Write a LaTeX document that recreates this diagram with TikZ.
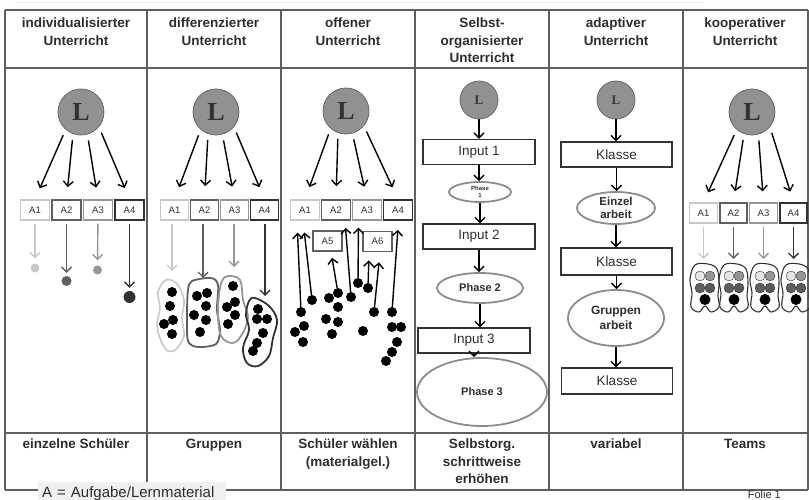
\documentclass[tikz,border=0pt]{standalone}
\usepackage{fontspec}
\setmainfont{Liberation Sans}
\newfontfamily\lehrerfont{Liberation Serif}
\usetikzlibrary{arrows.meta,calc,positioning,shapes.geometric}
\definecolor{tabrule}{RGB}{95,95,95}
\definecolor{textgrau}{RGB}{45,45,45}
\definecolor{lehrerfill}{RGB}{145,145,145}
\definecolor{lehrerrand}{RGB}{105,105,105}
\definecolor{hell}{RGB}{200,200,200}
\definecolor{mittel}{RGB}{150,150,150}
\definecolor{dunkel}{RGB}{95,95,95}
\definecolor{tief}{RGB}{50,50,50}
\definecolor{ovalrand}{RGB}{140,140,140}
\definecolor{fussbox}{RGB}{240,240,240}
\newcommand{\aufgabenreihe}[5]{%
  \node[abox,minimum width=#5,draw=hell] (#1a1) at (#2,#3) {A1};%
  \node[abox,minimum width=#5,draw=dunkel,line width=1.8] (#1a2) at ({#2+#4},#3) {A2};%
  \node[abox,minimum width=#5,draw=mittel] (#1a3) at ({#2+2*#4},#3) {A3};%
  \node[abox,minimum width=#5,draw=tief,line width=1.8] (#1a4) at ({#2+3*#4},#3) {A4};%
}
\newcommand{\lehrerfaecher}[3]{%
  \foreach \w [count=\k] in {229,250,286,320}
    \draw[pfeil,shorten <=6,shorten >=#3] (#1.\w) -- (#2a\k.north);%
}
\newcommand{\teamblob}[2]{%
  \coordinate (#2) at (#1,266);%
  \draw[tief,line width=1.1] plot[smooth cycle,tension=0.6] coordinates {({#1-10},265) ({#1+3},264) ({#1+12},269) ({#1+14},283) ({#1+13},296) ({#1+14},307) ({#1+6},312) ({#1},306) ({#1-6},312) ({#1-14},307) ({#1-13},293) ({#1-15},279)};%
  \filldraw[draw=tief,fill=black!10] ({#1-5},276) circle (5);%
  \filldraw[draw=tief,fill=mittel] ({#1+5},276) circle (5);%
  \filldraw[draw=tief,fill=dunkel] ({#1-5},288) circle (5);%
  \filldraw[draw=tief,fill=black!65] ({#1+5},288) circle (5);%
  \fill[black] (#1,299.5) circle (5.5);%
}

\begin{document}
\begin{tikzpicture}[x=1pt,y=-1pt,
  kopf/.style={anchor=north,align=center,inner sep=0,text=textgrau,
    font=\bfseries\fontsize{13.5}{17.5}\selectfont},
  lehrer/.style={circle,fill=lehrerfill,draw=lehrerrand,line width=0.8,minimum size=46,inner sep=0,
    font=\lehrerfont\bfseries\fontsize{26}{26}\selectfont,text=black!80},
  lehrerklein/.style={lehrer,minimum size=38,font=\lehrerfont\bfseries\fontsize{13}{13}\selectfont},
  abox/.style={rectangle,line width=1.3,minimum height=20,inner sep=0,fill=white,
    font=\fontsize{9.5}{10}\selectfont,text=textgrau},
  kasten/.style={rectangle,draw=tief,line width=1.1,minimum width=112,minimum height=25,inner sep=0,
    font=\fontsize{13.5}{14}\selectfont,text=textgrau},
  oval/.style={ellipse,draw=ovalrand,line width=1.8,inner sep=0,align=center,text=textgrau,
    font=\bfseries\fontsize{11}{13}\selectfont},
  pfeil/.style={-{Straight Barb[length=5pt,width=10pt]},line width=1.4},
  punkt/.style={circle,fill=black,inner sep=0,minimum size=10}]
  \useasboundingbox (0,0) rectangle (809,500);
  % table
  \draw[black!8,line width=1] (15,3) -- (703,3);
  \draw[tabrule,line width=1.2] (5,10) -- (808,10) (5,68) -- (808,68) (5,433) -- (808,433) (5,490) -- (808,490);
  \foreach \x in {5,147,281,415,549,683,808} \draw[tabrule,line width=1.2] (\x,10) -- (\x,490);
  \node[kopf] (h1) at (76,18) {individualisierter\\Unterricht};
  \node[kopf] (h2) at (214,18) {differenzierter\\Unterricht};
  \node[kopf] (h3) at (348,18) {offener\\Unterricht};
  \node[kopf] (h4) at (482,18) {Selbst-\\organisierter\\Unterricht};
  \node[kopf] (h5) at (616,18) {adaptiver\\Unterricht};
  \node[kopf] (h6) at (745,18) {kooperativer\\Unterricht};
  \node[kopf] (f1) at (76,439) {einzelne Schüler};
  \node[kopf] (f2) at (214,439) {Gruppen};
  \node[kopf] (f3) at (348,439) {Schüler wählen\\(materialgel.)};
  \node[kopf] (f4) at (482,439) {Selbstorg.\\schrittweise\\erhöhen};
  \node[kopf] (f5) at (616,439) {variabel};
  \node[kopf] (f6) at (745,439) {Teams};

  % individualisiert
  \node[lehrer] (l1) at (81,112) {L};
  \aufgabenreihe{c1}{35}{210}{31.5}{29}
  \lehrerfaecher{l1}{c1}{12}
  \node[punkt,fill=hell,minimum size=9] (c1p1) at (35,268) {};
  \node[punkt,fill=dunkel] (c1p2) at (66.5,281) {};
  \node[punkt,fill=mittel,minimum size=9] (c1p3) at (97.5,270) {};
  \node[punkt,fill=tief,minimum size=12] (c1p4) at (129.5,297) {};
  \draw[pfeil,hell,shorten <=3,shorten >=5] (c1a1) -- (c1p1);
  \draw[pfeil,dunkel,shorten <=3,shorten >=3] (c1a2) -- (c1p2);
  \draw[pfeil,mittel,shorten <=3,shorten >=5] (c1a3) -- (c1p3);
  \draw[pfeil,tief,shorten <=3,shorten >=3] (c1a4) -- (c1p4);

  % differenziert
  \node[lehrer] (l2) at (216,112) {L};
  \aufgabenreihe{c2}{174.5}{210}{30}{28}
  \lehrerfaecher{l2}{c2}{13}
  \coordinate (c2g1) at (172,271);
  \coordinate (c2g2) at (203,278);
  \coordinate (c2g3) at (234,267);
  \coordinate (c2g4) at (265,296);
  \draw[pfeil,hell,shorten <=3] (c2a1.south -| c2g1) -- (c2g1);
  \draw[pfeil,dunkel,shorten <=3] (c2a2.south -| c2g2) -- (c2g2);
  \draw[pfeil,mittel,shorten <=3] (c2a3.south -| c2g3) -- (c2g3);
  \draw[pfeil,tief,shorten <=3] (c2a4.south -| c2g4) -- (c2g4);
  \draw[hell,line width=1.6] plot[smooth cycle,tension=0.6] coordinates {(166,280) (177,284) (184,300) (182,318) (184,336) (176,349) (168,351) (161,341) (157,325) (160,308) (158,292)};
  \draw[dunkel,line width=1.8] plot[smooth cycle,tension=0.5] coordinates {(192,281) (211,278) (218,285) (217,310) (220,330) (216,344) (198,347) (188,341) (187,315) (188,290)};
  \draw[mittel,line width=1.8] plot[smooth cycle,tension=0.6] coordinates {(228,276) (240,280) (243,300) (248,318) (241,336) (232,343) (221,336) (218,315) (219,295) (222,281)};
  \draw[tief,line width=1.8] plot[smooth cycle,tension=0.6] coordinates {(255,298) (269,306) (277,320) (273,338) (269,356) (258,366) (247,363) (243,348) (249,330) (246,315) (249,301)};
  \foreach \px/\py in {172/292,170/306,173/320,164/324,172/334,
    197/296,207/293,206/306,194/315,206/320,200/332,
    233/286,235/302,227/307,235/315,228/324,
    258/309,257/319,267/319,263/333,257/343,253/351}
    \fill[black] (\px,\py) circle (5);

  % offen
  \node[lehrer] (l3) at (346,111) {L};
  \aufgabenreihe{c3}{305}{210}{31}{29}
  \lehrerfaecher{l3}{c3}{13}
  \node[abox,minimum width=29,draw=dunkel,line width=1.8] (c3a5) at (327.5,241) {A5};
  \node[abox,minimum width=29,draw=dunkel,line width=1.8] (c3a6) at (377.5,241.5) {A6};
  \foreach \px/\py [count=\i] in {312/300,301/312,304/326,295/332,303/342,
    329/298,338/293,338/307,326/319,338/322,332/334,
    351/297,358/283,368/288,374/312,363/331,
    392/312,392/327,401/327,397/342,392/352,386/361}
    \node[punkt] (o\i) at (\px,\py) {};
  \draw[pfeil,shorten >=12] (o1) -- ([xshift=-2]c3a1.south);
  \draw[pfeil,shorten >=12] (o2) -- ([xshift=-8]c3a1.south);
  \draw[pfeil,shorten >=6] (o7) -- ([xshift=3.5]c3a5.south);
  \draw[pfeil,shorten >=7] (o12) -- ([xshift=9]c3a2.south);
  \draw[pfeil,shorten >=7] (o13) -- ([xshift=-8.5]c3a3.south);
  \draw[pfeil,shorten >=8] (o14) -- ([xshift=-8.5]c3a6.south);
  \draw[pfeil,shorten >=10] (o15) -- ([xshift=2.5]c3a6.south);
  \draw[pfeil,shorten >=9] (o17) -- ([xshift=0.5]c3a4.south);

  % selbstorganisiert
  \node[lehrerklein] (l4) at (479,100) {L};
  \node[kasten] (in1) at (479,152) {Input 1};
  \node[oval,minimum width=62,minimum height=20,font=\bfseries\fontsize{6}{7}\selectfont] (ph1) at (480,192) {Phase\\1};
  \node[kasten] (in2) at (479,236.5) {Input 2};
  \node[oval,minimum width=86,minimum height=30] (ph2) at (480,288) {Phase 2};
  \node[kasten] (in3) at (474,340.5) {Input 3};
  \node[oval,minimum width=130,minimum height=68] (ph3) at (482,392) {Phase 3};
  \draw[pfeil] (l4) -- (l4 |- in1.north);
  \draw[pfeil] (in1) -- (in1 |- ph1.north);
  \draw[pfeil] (ph1) -- (ph1 |- in2.north);
  \draw[pfeil] (in2) -- (in2 |- ph2.north);
  \draw[pfeil] (ph2) -- (ph2 |- in3.north);
  \draw[pfeil] (in3) -- (in3 |- ph3.north);

  % adaptiv
  \node[lehrerklein] (l5) at (616,100) {L};
  \node[kasten,minimum width=111] (kl1) at (616.5,154.5) {Klasse};
  \node[oval,minimum width=78,minimum height=32,font=\bfseries\fontsize{11.5}{13}\selectfont] (ez) at (616,208) {Einzel\\arbeit};
  \node[kasten,minimum width=111,minimum height=27] (kl2) at (616.5,261.5) {Klasse};
  \node[oval,minimum width=96,minimum height=56,font=\bfseries\fontsize{12}{15}\selectfont] (ga) at (616,318) {Gruppen\\arbeit};
  \node[kasten,minimum width=111,minimum height=26] (kl3) at (617,381) {Klasse};
  \draw[pfeil] (l5) -- (l5 |- kl1.north);
  \draw[pfeil] (kl1) -- (kl1 |- ez.north);
  \draw[pfeil] (ez) -- (ez |- kl2.north);
  \draw[pfeil] (kl2) -- (kl2 |- ga.north);
  \draw[pfeil] (ga) -- (ga |- kl3.north);

  % kooperativ
  \node[lehrer] (l6) at (752,112) {L};
  \aufgabenreihe{c6}{703.5}{213}{30}{27.5}
  \lehrerfaecher{l6}{c6}{11}
  \teamblob{705}{t1}
  \teamblob{734}{t2}
  \teamblob{765}{t3}
  \teamblob{796}{t4}
  \draw[pfeil,hell,shorten <=3,shorten >=7] (c6a1) -- (c6a1 |- t1);
  \draw[pfeil,dunkel,shorten <=3,shorten >=7] (c6a2) -- (c6a2 |- t2);
  \draw[pfeil,mittel,shorten <=3,shorten >=7] (c6a3) -- (c6a3 |- t3);
  \draw[pfeil,tief,shorten <=3,shorten >=7] (c6a4) -- (c6a4 |- t4);

  % footer
  \node[fill=fussbox,anchor=north west,minimum width=188,minimum height=20,inner sep=0,text=textgrau,
    font=\fontsize{15}{17}\selectfont,text depth=0,align=left,text width=180] (leg) at (38,482) {A = Aufgabe/Lernmaterial};
  \node[anchor=north east,inner sep=0,text=textgrau,font=\fontsize{11}{12}\selectfont] (folie) at (781,490) {Folie 1};
\end{tikzpicture}
\end{document}
